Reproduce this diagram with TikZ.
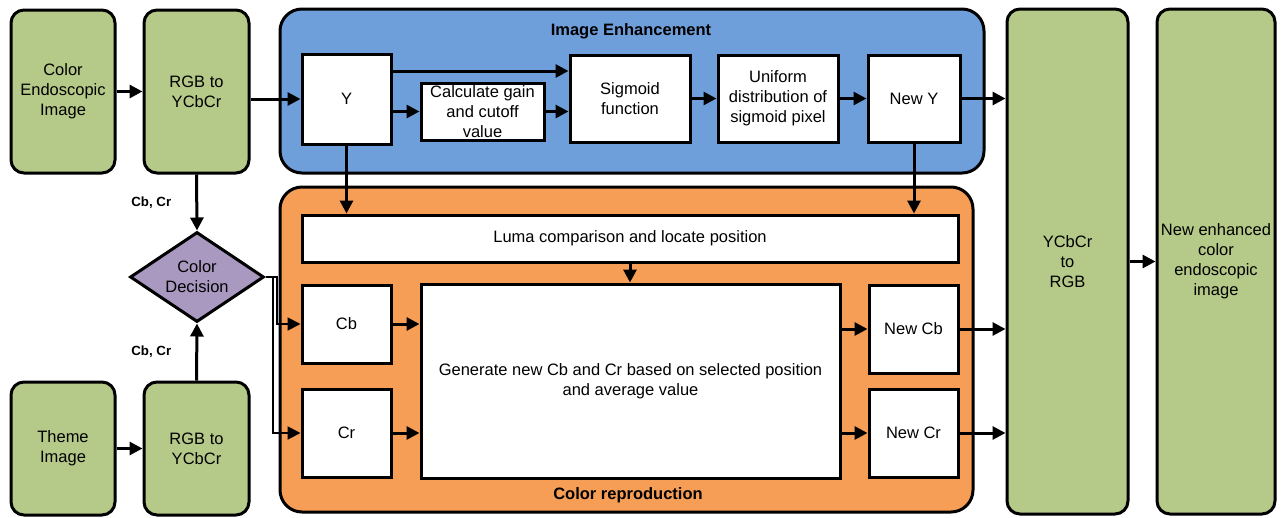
\documentclass[tikz,border=0pt]{standalone}
\usepackage{fontspec}
\setmainfont{Liberation Sans}
\usetikzlibrary{arrows.meta,shapes.geometric}
\definecolor{boxgreen}{RGB}{181,202,136}
\definecolor{enhblue}{RGB}{111,159,219}
\definecolor{reporange}{RGB}{246,157,86}
\definecolor{decpurple}{RGB}{169,153,193}
\begin{document}
\begin{tikzpicture}[x=1pt, y=-1pt, font=\fontsize{16.5}{20}\selectfont, >={Triangle[length=13pt,width=13pt]},
	greenbox/.style={draw, line width=3pt, fill=boxgreen, rounded corners=13pt, align=center, inner sep=0pt},
	whitebox/.style={draw, line width=3pt, fill=white, align=center, inner sep=0pt},
	panel/.style={draw, line width=3pt, rounded corners=22pt, inner sep=0pt},
	title/.style={font=\fontsize{16.5}{20}\selectfont\bfseries, inner sep=0pt},
	cblabel/.style={font=\fontsize{13.3}{16}\selectfont\bfseries, inner sep=0pt},
	arr/.style={->, line width=3pt},
	decline/.style={->, line width=2pt}]
	\useasboundingbox (0,0) rectangle (1282,517);
	% inputs
	\node[greenbox, minimum width=104, minimum height=163] (img) at (63,91.5) {Color\\Endoscopic\\Image};
	\node[greenbox, minimum width=105, minimum height=163] (rgba) at (196.5,91.5) {RGB to\\YCbCr};
	\node[greenbox, minimum width=104, minimum height=133] (thm) at (63,448.5) {Theme\\Image};
	\node[greenbox, minimum width=105, minimum height=133] (rgbb) at (196.5,448.5) {RGB to\\YCbCr};
	\node[draw, diamond, line width=3pt, fill=decpurple, minimum width=134, minimum height=90, inner sep=0pt, shape aspect=1.5, align=center] (dec) at (197,277) {Color\\Decision};
	% image enhancement
	\node[panel, fill=enhblue, minimum width=704, minimum height=164] (enh) at (632,91) {};
	\node[title] (enhtitle) at (631,31) {Image Enhancement};
	\node[whitebox, minimum width=89, minimum height=90] (y) at (346.5,99) {Y};
	\node[whitebox, minimum width=123, minimum height=57] (calc) at (482.5,111.5) {Calculate gain\\and cutoff\\value};
	\node[whitebox, minimum width=120, minimum height=87] (sig) at (630,98.5) {Sigmoid\\function};
	\node[whitebox, minimum width=120, minimum height=87] (uni) at (778,98.5) {Uniform\\distribution of\\sigmoid pixel};
	\node[whitebox, minimum width=92, minimum height=87] (newy) at (914,98.5) {New Y};
	% color reproduction
	\node[panel, fill=reporange, minimum width=693, minimum height=325] (rep) at (626.5,349.5) {};
	\node[title] (reptitle) at (628,495) {Color reproduction};
	\node[whitebox, minimum width=656, minimum height=47] (luma) at (630,238.5) {Luma comparison and locate position};
	\node[whitebox, minimum width=89, minimum height=78] (cb) at (346.5,324) {Cb};
	\node[whitebox, minimum width=89, minimum height=88] (cr) at (346.5,433) {Cr};
	\node[whitebox, minimum width=419, minimum height=194] (gen) at (630.5,381) {Generate new Cb and Cr based on selected position\\and average value};
	\node[whitebox, minimum width=89, minimum height=88] (ncb) at (913.5,329) {New Cb};
	\node[whitebox, minimum width=89, minimum height=88] (ncr) at (913.5,433) {New Cr};
	% outputs
	\node[greenbox, minimum width=121, minimum height=505] (ycc) at (1067.5,261.5) {YCbCr\\to\\RGB};
	\node[greenbox, minimum width=118, minimum height=505] (out) at (1216,261.5) {New enhanced\\color\\endoscopic\\image};
	% connectors
	\draw[arr] (img.east) -- (rgba.west);
	\draw[arr] (thm.east) -- (rgbb.west);
	\draw[arr] (rgba.east |- y.west) -- (y.west);
	\draw[arr] (rgba.south) -- node[cblabel, left=24pt] (cblaba) {Cb, Cr} (dec.north);
	\draw[arr] (rgbb.north) -- node[cblabel, left=24pt] (cblabb) {Cb, Cr} (dec.south);
	\draw[decline] (dec.east) -- ++(11,0) |- (cb.west);
	\draw[decline] (dec.east) -- ++(7,0) |- (cr.west);
	\draw[arr] ([yshift=28pt]y.east) -- ([yshift=28pt]y.east -| sig.west);
	\draw[arr] (y.east |- calc.west) -- (calc.west);
	\draw[arr] (calc.east) -- (calc.east -| sig.west);
	\draw[arr] (sig) -- (uni);
	\draw[arr] (uni) -- (newy);
	\draw[arr] (newy.east) -- (newy.east -| ycc.west);
	\draw[arr] (y.south) -- (y.south |- luma.north);
	\draw[arr] (newy.south) -- (newy.south |- luma.north);
	\draw[arr] (luma.south) -- (luma.south |- gen.north);
	\draw[arr] (cb.east) -- (cb.east -| gen.west);
	\draw[arr] (cr.east) -- (cr.east -| gen.west);
	\draw[arr] (gen.east |- ncb.west) -- (ncb.west);
	\draw[arr] (gen.east |- ncr.west) -- (ncr.west);
	\draw[arr] (ncb.east) -- (ncb.east -| ycc.west);
	\draw[arr] (ncr.east) -- (ncr.east -| ycc.west);
	\draw[arr] (ycc) -- (out);
\end{tikzpicture}
\end{document}
